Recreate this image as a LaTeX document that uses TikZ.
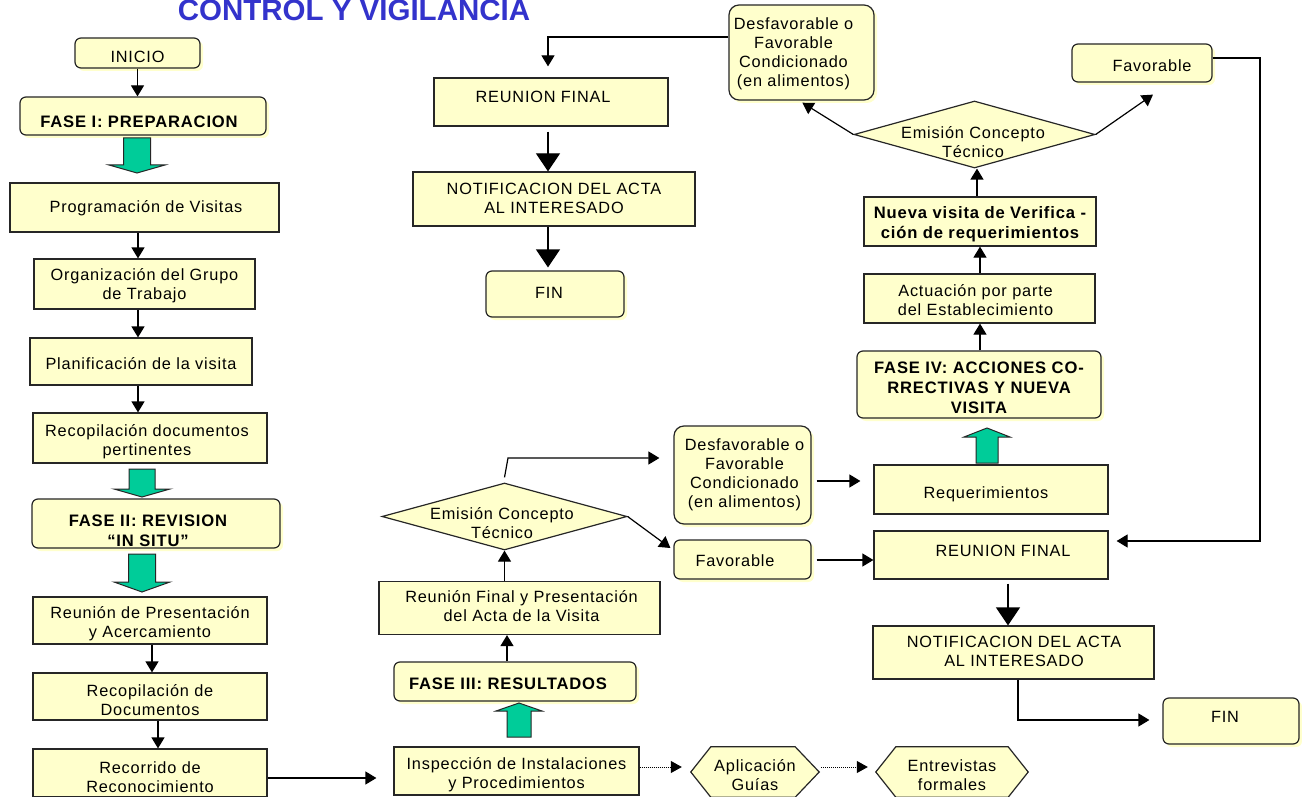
\documentclass[tikz,border=0pt]{standalone}
\usepackage{fontspec}
\setmainfont{Liberation Sans}[LetterSpace=5]
\newfontfamily\titlefont{Liberation Sans}
\usetikzlibrary{arrows.meta,shapes.geometric,shadows}
\definecolor{boxfill}{RGB}{255,255,204}
\definecolor{grn}{RGB}{0,204,153}
\definecolor{ttl}{RGB}{51,51,204}
\newcommand\bxnode[9]{%
  \node[#1,minimum width=#5pt,minimum height=#6pt] (#2) at (#3,#4) {};
  \node[txt,#8] (#2-t) at ([shift={(#7)}]#2.center) {#9};}
\newcommand\greenarrow[6]{%
  \draw[garrow] ({#1-#5},#2) -- ({#1+#5},#2) -- ({#1+#5},#3) -- ({#1+#6},#3) -- (#1,#4) -- ({#1-#6},#3) -- ({#1-#5},#3) -- cycle;}
\begin{document}
\begin{tikzpicture}[x=1pt,y=-1pt,
  box/.style={draw=black!85, fill=boxfill, line width=1.2pt, inner sep=0pt},
  rbox/.style={box, rounded corners=6pt, general shadow={fill=boxfill, shadow xshift=3pt, shadow yshift=-3pt}},
  dia/.style={box, diamond, inner sep=0pt},
  hexline/.style={draw=black!85, fill=boxfill, line width=1.2pt},
  txt/.style={inner sep=0pt, align=center, font=\fontsize{16.3}{19}\selectfont},
  bt/.style={font=\fontsize{16.6}{20}\selectfont\bfseries},
  arr/.style={-{Triangle[length=11pt,width=13pt]}, line width=1.2pt},
  bigarr/.style={-{Triangle[length=18pt,width=24pt]}, line width=1.2pt},
  dotarr/.style={-{Triangle[length=11pt,width=12pt]}, line width=1pt, dash pattern=on 1pt off 1pt},
  garrow/.style={draw=black!85, fill=grn, line width=1pt, line join=miter}
]
\fill[white] (0,0) rectangle (1302,797);
\useasboundingbox (0,0) rectangle (1302,797);

% title
\node[anchor=base, inner sep=0pt, text=ttl, font=\titlefont\fontsize{29.5}{32}\selectfont\bfseries] (title) at (354,21) {CONTROL Y VIGILANCIA};

% left column
\bxnode{rbox}{inicio}{137.5}{53}{125}{30}{0,4}{}{INICIO}
\bxnode{rbox}{fase1}{143}{116}{246}{38}{-4,6}{bt}{FASE I: PREPARACION}
\bxnode{box}{prog}{144.5}{207.5}{269}{49}{1.5,1}{}{Programación de Visitas}
\bxnode{box}{org}{144.5}{284}{221}{50}{0,2}{}{Organización del Grupo\\de Trabajo}
\bxnode{box}{plan}{141}{361.5}{222}{47}{0,2.5}{}{Planificación de la visita}
\bxnode{box}{recop1}{150}{438}{234}{50}{-3,4}{}{Recopilación documentos\\pertinentes}
\bxnode{rbox}{fase2}{156}{523.5}{248}{49}{-8,7.5}{bt}{FASE II: REVISION\\“IN SITU”}
\bxnode{box}{reunpres}{150}{620.5}{234}{47}{0,3.5}{}{Reunión de Presentación\\y Acercamiento}
\bxnode{box}{recop2}{150}{696.5}{234}{47}{0,3.5}{}{Recopilación de\\Documentos}
\bxnode{box}{recorrido}{150}{773}{234}{48}{0,4.5}{}{Recorrido de\\Reconocimiento}

% middle bottom
\bxnode{box}{insp}{516.5}{771}{245}{48}{0,4}{}{Inspección de Instalaciones\\y Procedimientos}
\node[minimum width=128pt, minimum height=50pt, inner sep=0pt] (aplic) at (755,772) {};
\draw[hexline] (aplic.west) -- ([xshift=20pt]aplic.north west) -- ([xshift=-24pt]aplic.north east) -- (aplic.east) -- ([xshift=-24pt]aplic.south east) -- ([xshift=20pt]aplic.south west) -- cycle;
\node[txt] (aplic-t) at ([shift={(0,3)}]aplic.center) {Aplicación\\Guías};
\node[minimum width=152pt, minimum height=50pt, inner sep=0pt] (entrev) at (952,772) {};
\draw[hexline] (entrev.west) -- ([xshift=20pt]entrev.north west) -- ([xshift=-20pt]entrev.north east) -- (entrev.east) -- ([xshift=-20pt]entrev.south east) -- ([xshift=20pt]entrev.south west) -- cycle;
\node[txt] (entrev-t) at ([shift={(0,3)}]entrev.center) {Entrevistas\\formales};

\bxnode{rbox}{fase3}{515}{681.5}{242}{39}{-7,2.5}{bt}{FASE III: RESULTADOS}
\bxnode{box}{reunfp}{519.5}{608}{281}{53}{2,-2}{}{Reunión Final y Presentación\\del Acta de la Visita}
\bxnode{dia}{dia1}{504.5}{516.5}{245}{67}{-2.5,6.5}{}{Emisión Concepto\\Técnico}
\bxnode{rbox,rounded corners=10pt}{desf2}{742.5}{475}{137}{98}{2,0}{}{Desfavorable o\\Favorable\\Condicionado\\(en alimentos)}
\bxnode{rbox}{fav2}{742.5}{559.5}{137}{39}{-7.5,1.5}{}{Favorable}
\bxnode{box}{requer}{991}{489.5}{234}{49}{-5,4.5}{}{Requerimientos}
\bxnode{box}{reunfin2}{991}{555}{234}{48}{12,-4}{}{REUNION FINAL}
\bxnode{box}{notif2}{1013.5}{652.5}{281}{53}{0.5,-1.5}{}{NOTIFICACION DEL ACTA\\AL INTERESADO}
\bxnode{rbox}{fin2}{1231}{721}{136}{46}{-6,-4}{}{FIN}

% right column
\bxnode{rbox}{fase4}{979}{384.5}{244}{67}{0,3.5}{bt}{FASE IV: ACCIONES CO-\\RRECTIVAS Y NUEVA\\VISITA}
\bxnode{box}{actuacion}{979.5}{298.5}{231}{49}{-4,1.5}{}{Actuación por parte\\del Establecimiento}
\bxnode{box}{nueva}{980}{221.5}{232}{49}{0,3}{bt}{Nueva visita de Verifica -\\ción de requerimientos}
\bxnode{dia}{dia2}{974.5}{134.5}{241}{67}{-1.5,7.5}{}{Emisión Concepto\\Técnico}
\bxnode{rbox,rounded corners=10pt}{desf1}{801.5}{52.5}{145}{95}{-8,1}{}{Desfavorable o\\Favorable\\Condicionado\\(en alimentos)}
\bxnode{rbox}{fav1}{1142}{63}{140}{38}{10,3}{}{Favorable}

% top middle
\bxnode{box}{reunfin1}{551}{102}{234}{48}{-8,-5}{}{REUNION FINAL}
\bxnode{box}{notif1}{554}{199}{282}{54}{0,-1}{}{NOTIFICACION DEL ACTA\\AL INTERESADO}
\bxnode{rbox}{fin1}{555}{294}{138}{46}{-6,-1.5}{}{FIN}

% green block arrows
\greenarrow{137}{138}{165}{173}{13.5}{28}
\greenarrow{142}{469}{489}{497}{13}{28}
\greenarrow{142}{554}{582}{592}{13.5}{28}
\greenarrow{519}{737}{711}{703}{12}{23}
\greenarrow{987}{463}{437}{428}{11}{23}

% connectors
\coordinate (xa) at (138,0);
\coordinate (xb) at (152,0);
\coordinate (xc) at (158,0);
\draw[arr] (inicio.south) -- (inicio.south |- fase1.north);
\draw[arr] (prog.south -| xa) -- (org.north -| xa);
\draw[arr] (org.south -| xa) -- (plan.north -| xa);
\draw[arr] (plan.south -| xa) -- (recop1.north -| xa);
\draw[arr] (reunpres.south -| xb) -- (recop2.north -| xb);
\draw[arr] (recop2.south -| xc) -- (recorrido.north -| xc);
\coordinate (yg) at (0,778);
\draw[arr, shorten >=17pt] (recorrido.east |- yg) -- (insp.west |- yg);
\coordinate (yd) at (0,767);
\draw[dotarr, shorten >=9pt] (insp.east |- yd) -- (aplic.west |- yd);
\draw[dotarr, shorten <=2pt, shorten >=8pt] (aplic.east |- yd) -- (entrev.west |- yd);

\coordinate (xi) at (507,0);
\draw[arr] (fase3.north -| xi) -- (reunfp.south -| xi);
\draw[arr] (reunfp.north -| dia1.south) -- (dia1.south);
\coordinate (k1) at (508,458);
\draw[arr, shorten >=14pt] ([yshift=5pt]dia1.north) -- (k1) -- (k1 -| desf2.west);
\draw[arr] (dia1.east) -- ([shift={(-3,-11.5)}]fav2.west);
\coordinate (ym) at (0,481);
\draw[arr, shorten <=5pt, shorten >=13pt] (desf2.east |- ym) -- (requer.west |- ym);
\coordinate (yn) at (0,560);
\draw[arr, shorten <=5pt] (fav2.east |- yn) -- (reunfin2.west |- yn);
\coordinate (xo) at (1008,0);
\draw[bigarr, shorten <=4pt] (reunfin2.south -| xo) -- (notif2.north -| xo);
\coordinate (p1) at (1018,720);
\draw[arr, shorten >=13pt] (notif2.south -| p1) -- (p1) -- (p1 -| fin2.west);

\coordinate (xr) at (980,0);
\draw[arr] (fase4.north -| xr) -- (actuacion.south -| xr);
\draw[arr] (actuacion.north -| xr) -- (nueva.south -| xr);
\coordinate (xt) at (977,0);
\draw[arr] (nueva.north -| xt) -- (dia2.south -| xt);
\draw[arr, shorten >=4pt] (dia2.west) -- ([xshift=-2.5pt]desf1.south);
\draw[arr] (dia2.east) -- ([shift={(11,12)}]fav1.south);
\coordinate (w1) at (1260,58);
\coordinate (w2) at (1260,541);
\draw[arr, shorten >=8pt] (fav1.east |- w1) -- (w1) -- (w2) -- (w2 -| reunfin2.east);
\coordinate (x1) at (548,37);
\draw[arr, shorten >=11pt] (desf1.west |- x1) -- (x1) -- (x1 |- reunfin1.north);
\coordinate (xy) at (548,0);
\draw[bigarr, shorten <=5pt] (reunfin1.south -| xy) -- (notif1.north -| xy);
\draw[bigarr, shorten >=3pt] (notif1.south -| xy) -- (fin1.north -| xy);
\end{tikzpicture}
\end{document}
